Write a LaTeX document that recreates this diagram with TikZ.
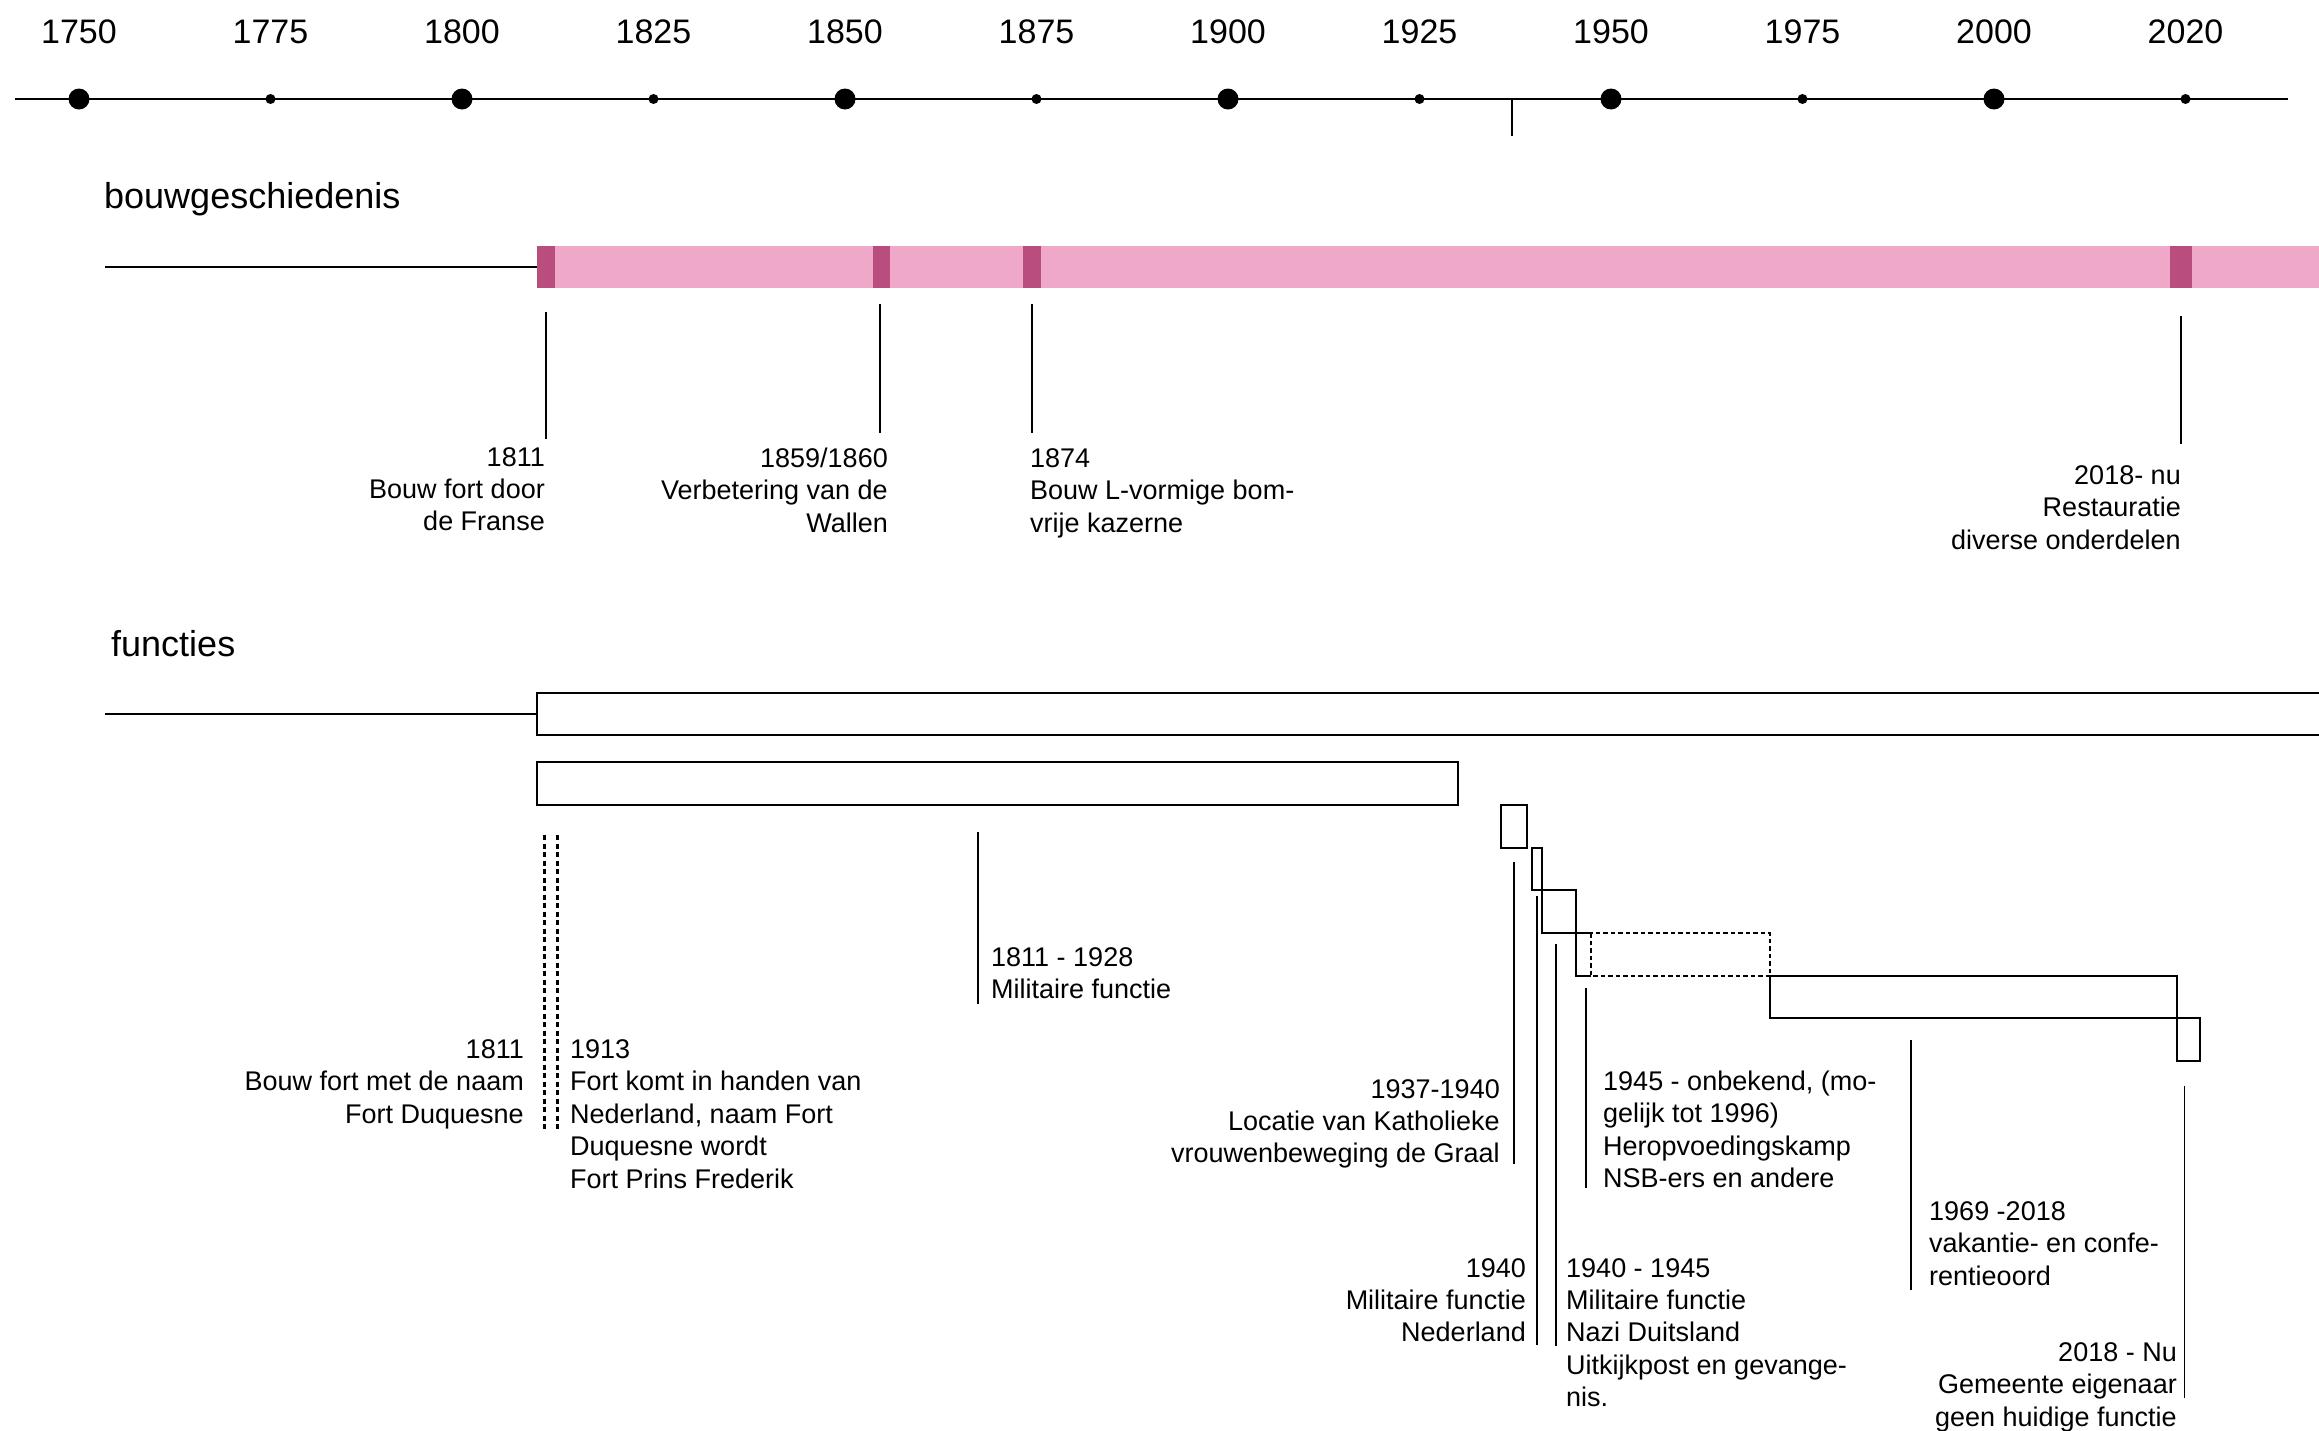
\documentclass[tikz,border=0pt]{standalone}
\usepackage{fontspec}
\setmainfont{Liberation Sans}
\definecolor{pinkband}{RGB}{240,168,201}
\definecolor{pinkmark}{RGB}{185,78,126}
\tikzset{
  yearlbl/.style={font=\fontsize{34}{40}\selectfont, anchor=base, inner sep=0},
  heading/.style={font=\fontsize{36}{42}\selectfont, anchor=base west, inner sep=0},
  body/.style={font=\fontsize{27}{32.4}\selectfont, inner sep=0},
  % multi-line nodes: the base anchor sits on the LAST line's baseline
  lbl/.style={body, align=left, anchor=base west},
  lbr/.style={body, align=right, anchor=base east},
  axisline/.style={line width=2pt},
  bigdot/.style={circle, fill=black, minimum size=21pt, inner sep=0},
  smalldot/.style={circle, fill=black, minimum size=10pt, inner sep=0},
  leader/.style={line width=1.6pt},
  fbox/.style={draw, line width=2.2pt},
  dotbox/.style={draw, line width=2.4pt, dash pattern=on 4.5pt off 3pt},
  dotleader/.style={line width=3pt, dash pattern=on 5pt off 3.5pt},
}
\begin{document}
\begin{tikzpicture}[x=1pt,y=-1pt]
\path[use as bounding box, fill=white] (0,0) rectangle (2319,1430);
\clip (0,0) rectangle (2319,1430);
% ---------- time axis ----------
\coordinate (axL) at (15,99);
\coordinate (axR) at (2288,99);
\draw[axisline] (axL) -- (axR);
\foreach \i/\yr in {0/1750,1/1775,2/1800,3/1825,4/1850,5/1875,6/1900,7/1925,8/1950,9/1975,10/2000,11/2020}{
  \pgfmathsetmacro\xx{79+191.5*\i}
  \pgfmathtruncatemacro\ev{mod(\i,2)}
  \ifnum\ev=0
    \node[bigdot] (d\i) at (\xx,99) {};
  \else
    \node[smalldot] (d\i) at (\xx,99) {};
  \fi
  \node[yearlbl] (y\i) at (\xx,43.5) {\yr};
}
\coordinate (tkA) at (1512,99);
\coordinate (tkB) at (1512,136);
\draw[leader] (tkA) -- (tkB);

% ---------- bouwgeschiedenis ----------
\node[heading] (hb) at (104,208) {bouwgeschiedenis};
\coordinate (bL) at (105,267);
\coordinate (bR) at (537,267);
\draw[axisline] (bL) -- (bR);
\fill[pinkband] (537,246) rectangle (2319,288);
\fill[pinkmark] (537,246) rectangle (555,288);
\fill[pinkmark] (873,246) rectangle (890,288);
\fill[pinkmark] (1023,246) rectangle (1041,288);
\fill[pinkmark] (2170,246) rectangle (2192,288);

\coordinate (b1t) at (546,312);  \coordinate (b1b) at (546,439);
\coordinate (b2t) at (880,304);  \coordinate (b2b) at (880,433);
\coordinate (b3t) at (1032,304); \coordinate (b3b) at (1032,433);
\coordinate (b4t) at (2181,316); \coordinate (b4b) at (2181,444);
\draw[leader] (b1t) -- (b1b);
\draw[leader] (b2t) -- (b2b);
\draw[leader] (b3t) -- (b3b);
\draw[leader] (b4t) -- (b4b);

\node[lbr] (tb1) at (545,530.8) {1811\\Bouw fort door\\de Franse};
\node[lbr] (tb2) at (888,532.3) {1859/1860\\Verbetering van de\\Wallen};
\node[lbl] (tb3) at (1030,532.3) {1874\\Bouw L-vormige bom-\\vrije kazerne};
\node[lbr] (tb4) at (2181,549.3) {2018- nu\\Restauratie\\diverse onderdelen};

% ---------- functies ----------
\node[heading] (hf) at (111,656) {functies};
\coordinate (fL) at (105,714);
\coordinate (fR) at (537,714);
\draw[axisline] (fL) -- (fR);

\draw[fbox] (537,693) rectangle (2330,735);
\draw[fbox] (537,762) rectangle (1458,805);
\draw[fbox] (1501,805) rectangle (1527,848);
\draw[fbox] (1532,848) rectangle (1542,890);
\draw[fbox] (1542,890) rectangle (1576,933);
\draw[dotbox] (1591,933) rectangle (1770,976);
\draw[fbox] (1591,933) -- (1576,933) -- (1576,976) -- (1591,976);
\draw[fbox] (1770,976) rectangle (2177,1018);
\draw[fbox] (2177,1018) rectangle (2200,1061);

\coordinate (f0at) at (544,835);  \coordinate (f0ab) at (544,1129);
\coordinate (f0bt) at (557,835);  \coordinate (f0bb) at (557,1129);
\draw[dotleader] (f0at) -- (f0ab);
\draw[dotleader] (f0bt) -- (f0bb);
\coordinate (f1t) at (978,832);   \coordinate (f1b) at (978,1004);
\coordinate (f2t) at (1514,862);  \coordinate (f2b) at (1514,1164);
\coordinate (f3t) at (1537,896);  \coordinate (f3b) at (1537,1345);
\coordinate (f4t) at (1556,944);  \coordinate (f4b) at (1556,1346);
\coordinate (f5t) at (1586,988);  \coordinate (f5b) at (1586,1188);
\coordinate (f6t) at (1911,1040); \coordinate (f6b) at (1911,1290);
\coordinate (f7t) at (2184.5,1086); \coordinate (f7b) at (2184.5,1398);
\foreach \k in {1,...,7}{\draw[leader] (f\k t) -- (f\k b);}

\node[lbr] (tf1) at (524,1123.3) {1811\\Bouw fort met de naam\\Fort Duquesne};
\node[lbl] (tf2) at (570,1188.1) {1913\\Fort komt in handen van\\Nederland, naam Fort\\Duquesne wordt\\Fort Prins Frederik};
\node[lbl] (tf3) at (991,998.9) {1811 - 1928\\Militaire functie};
\node[lbr] (tf4) at (1500,1162.8) {1937-1940\\Locatie van Katholieke\\vrouwenbeweging de Graal};
\node[lbl] (tf5) at (1603,1187.7) {1945 - onbekend, (mo-\\gelijk tot 1996)\\Heropvoedingskamp\\NSB-ers en andere};
\node[lbr] (tf6) at (1526,1341.8) {1940\\Militaire functie\\Nederland};
\node[lbl] (tf7) at (1566,1406.6) {1940 - 1945\\Militaire functie\\Nazi Duitsland\\Uitkijkpost en gevange-\\nis.};
\node[lbl] (tf8) at (1929,1285.3) {1969 -2018\\vakantie- en confe-\\rentieoord};
\node[lbr] (tf9) at (2177,1426.3) {2018 - Nu\\Gemeente eigenaar\\geen huidige functie};
\end{tikzpicture}
\end{document}
